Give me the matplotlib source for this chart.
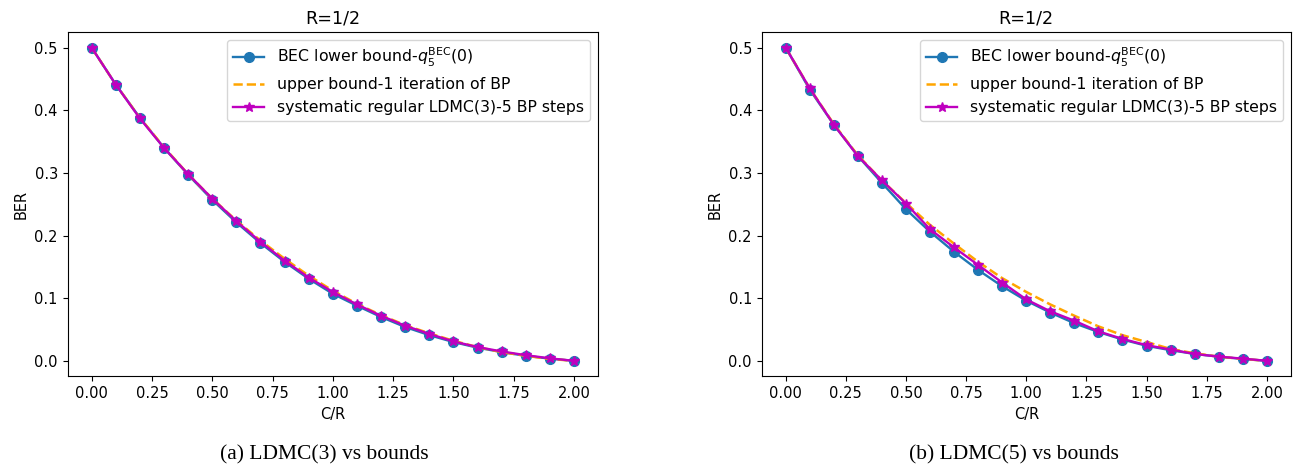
import numpy as np
import matplotlib
matplotlib.use("Agg")
import matplotlib.pyplot as plt

plt.rcParams['font.size'] = 10.5

# C/R grid
cr = [0.0, 0.1, 0.2, 0.3, 0.4, 0.5, 0.6, 0.7, 0.8, 0.9, 1.0,
      1.1, 1.2, 1.3, 1.4, 1.5, 1.6, 1.7, 1.8, 1.9, 2.0]

# (a) LDMC(3)
bec_a = [0.500, 0.441, 0.388, 0.340, 0.297, 0.257, 0.221, 0.188, 0.158, 0.131, 0.107,
         0.088, 0.070, 0.054, 0.041, 0.030, 0.021, 0.014, 0.008, 0.0035, 0.0]
upper_a = [0.500, 0.441, 0.388, 0.341, 0.298, 0.259, 0.224, 0.192, 0.163, 0.136, 0.112,
           0.091, 0.073, 0.057, 0.044, 0.032, 0.022, 0.014, 0.008, 0.003, 0.0]
ldmc_a = [0.500, 0.441, 0.387, 0.340, 0.298, 0.259, 0.223, 0.190, 0.160, 0.133, 0.110,
          0.090, 0.072, 0.056, 0.043, 0.031, 0.022, 0.015, 0.009, 0.004, 0.0]

# (b) LDMC(5)
bec_b = [0.500, 0.433, 0.377, 0.327, 0.284, 0.242, 0.206, 0.174, 0.145, 0.119, 0.096,
         0.077, 0.060, 0.046, 0.034, 0.024, 0.017, 0.011, 0.0067, 0.003, 0.0]
upper_b = [0.500, 0.435, 0.378, 0.328, 0.288, 0.252, 0.217, 0.187, 0.158, 0.132, 0.110,
           0.090, 0.072, 0.055, 0.041, 0.030, 0.019, 0.012, 0.0067, 0.003, 0.0]
ldmc_b = [0.500, 0.435, 0.377, 0.327, 0.288, 0.251, 0.210, 0.181, 0.153, 0.125, 0.098,
          0.079, 0.064, 0.047, 0.035, 0.025, 0.018, 0.011, 0.0067, 0.0035, 0.0]

captions = ["(a) LDMC(3) vs bounds", "(b) LDMC(5) vs bounds"]

fig = plt.figure(figsize=(12.94, 4.67), dpi=100)
ax1 = fig.add_axes([0.0522, 0.1938, 0.410, 0.7377])
ax2 = fig.add_axes([0.5886, 0.1938, 0.409, 0.7377])

for ax, bec, up, ld in [(ax1, bec_a, upper_a, ldmc_a), (ax2, bec_b, upper_b, ldmc_b)]:
    ax.plot(cr, bec, "o-", color="tab:blue", lw=1.7, markersize=7,
            label=r"BEC lower bound-$q_5^{\mathrm{BEC}}(0)$")
    ax.plot(cr, up, "--", color="orange", lw=1.8, label="upper bound-1 iteration of BP")
    ax.plot(cr, ld, "m*-", lw=1.7, markersize=7.5,
            label="systematic regular LDMC(3)-5 BP steps")
    ax.set_title("R=1/2", fontsize=12.6)
    ax.set_xlabel("C/R")
    ax.set_ylabel("BER")
    ax.set_xticks(np.arange(0, 2.01, 0.25))
    ax.set_yticks([0.0, 0.1, 0.2, 0.3, 0.4, 0.5])
    ax.set_xlim(-0.1, 2.1)
    ax.set_ylim(-0.025, 0.525)
    ax.legend(loc="upper right", fontsize=11.3)

fig.text(324 / 1294, 0.016, captions[0], family="Liberation Serif", fontsize=15.5, ha="center")
fig.text(1014 / 1294, 0.016, captions[1], family="Liberation Serif", fontsize=15.5, ha="center")

fig.savefig("out.png")
